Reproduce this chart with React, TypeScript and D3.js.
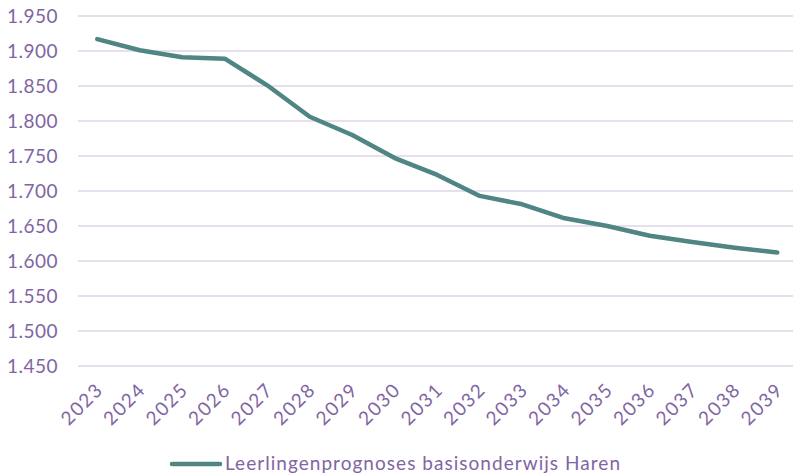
import React from "react";
import * as d3 from "d3";

const years = ["2023","2024","2025","2026","2027","2028","2029","2030","2031","2032","2033","2034","2035","2036","2037","2038","2039"];
const values = [1917,1901,1891,1889,1851,1806,1780,1747,1723,1693,1681,1661,1650,1636,1627,1619,1612];
const yTicks = [1450,1500,1550,1600,1650,1700,1750,1800,1850,1900,1950];
const seriesName = "Leerlingenprognoses basisonderwijs Haren";

const W = 793, H = 476;
const FONT = "Lato, 'Open Sans', sans-serif";
const TXT = "#7f65a3";
const GRID = "#dcd4e8";
const LINE = "#4f8583";

export default function App() {
  const x = d3.scaleBand().domain(years).range([76, 76 + 17 * 42.5]);
  const y = d3.scaleLinear().domain([1450, 1950]).range([366, 16]);
  const line = d3.line<number>()
    .x((_, i) => (x(years[i]) as number) + x.bandwidth() / 2)
    .y(d => y(d))
    .curve(d3.curveLinear);
  return (
    <svg width={W} height={H} style={{ position: "absolute", left: 0, top: 0 }}>
      <rect width={W} height={H} fill="#fff" />
      {yTicks.map(t => (
        <g key={t}>
          <line x1={78} x2={W} y1={y(t)} y2={y(t)} stroke={GRID} strokeWidth={1.5} />
          <text x={58} y={y(t)} dy="0.36em" textAnchor="end" fill={TXT} fontFamily={FONT} fontSize={19} letterSpacing={0.5}>
            {d3.format(",.3f")(t / 1000).replace(",", "")}
          </text>
        </g>
      ))}
      {years.map(yr => {
        const cx = (x(yr) as number) + x.bandwidth() / 2 + 7;
        const cy = 391;
        return (
          <text key={yr} x={cx} y={cy} transform={`rotate(-45 ${cx} ${cy})`} textAnchor="end" fill={TXT} fontFamily={FONT} fontSize={19} letterSpacing={1.5}>
            {yr}
          </text>
        );
      })}
      <path d={line(values) || ""} fill="none" stroke={LINE} strokeWidth={4.5} strokeLinecap="round" strokeLinejoin="round" />
      <line x1={172} x2={220} y1={464} y2={464} stroke={LINE} strokeWidth={4.5} strokeLinecap="round" />
      <text x={225} y={470} fill={TXT} fontFamily={FONT} fontSize={19} textLength={395} lengthAdjust="spacing">{seriesName}</text>
    </svg>
  );
}
